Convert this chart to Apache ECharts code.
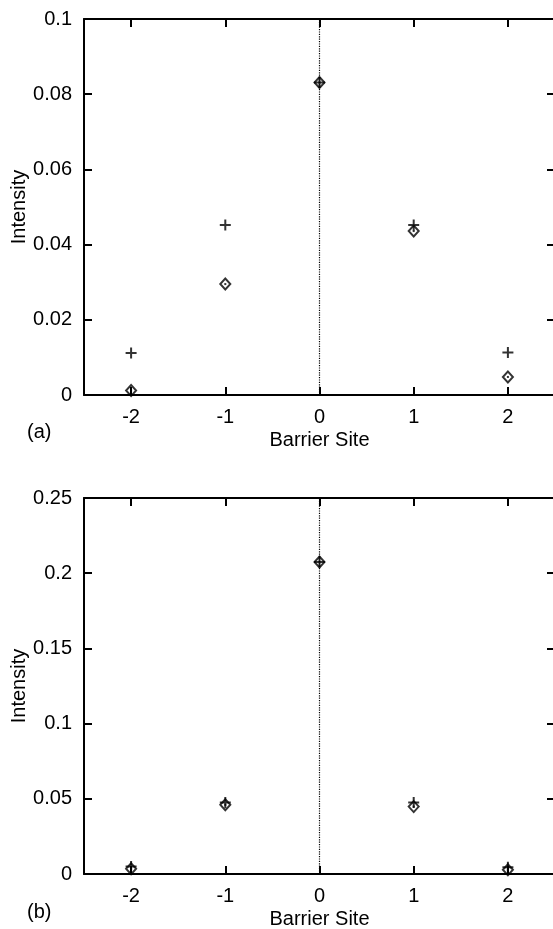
<!DOCTYPE html>
<html>
<head>
<meta charset="utf-8">
<script src="https://cdn.jsdelivr.net/npm/echarts@6/dist/echarts.min.js"></script>
<style>
html,body{margin:0;padding:0;background:#fff;}
#chart{width:553px;height:929px;}
</style>
</head>
<body>
<div id="chart"></div>
<script>
// Data
const sites = [-2, -1, 0, 1, 2];
const xTicks = [-2, -1, 0, 1, 2];
const aPlus = [0.0112, 0.0452, 0.0831, 0.0452, 0.0113];
const aDiamond = [0.0012, 0.0295, 0.0831, 0.0436, 0.0048];
const bPlus = [0.0050, 0.0475, 0.2075, 0.0475, 0.0045];
const bDiamond = [0.0035, 0.0460, 0.2075, 0.0448, 0.0028];
const panelLabels = ['(a)', '(b)'];
const xName = 'Barrier Site';
const yName = 'Intensity';

const FONT = 'Liberation Sans, Arial, Helvetica, sans-serif';
const FS = 20;

const chart = echarts.init(document.getElementById('chart'), null, {renderer: 'canvas'});

const grids = [
  {left: 84, width: 471, top: 19, height: 376, outerBoundsMode: 'none', containLabel: false},
  {left: 84, width: 471, top: 498, height: 376, outerBoundsMode: 'none', containLabel: false}
];
const yMax = [0.1, 0.25];
const yInt = [0.02, 0.05];

const xAxes = [], yAxes = [], series = [];
const axisLine = {show: true, onZero: false, lineStyle: {color: '#000', width: 2}};
const tick = {show: true, inside: true, length: 8, lineStyle: {color: '#000', width: 2}};
const xTick = Object.assign({}, tick, {customValues: xTicks});

const plusPath = 'path://M0,5L10,5M5,0L5,10';

[0, 1].forEach(g => {
  const xi = xAxes.length;
  xAxes.push({
    type: 'value', gridIndex: g, position: 'bottom', min: -2.5, max: 2.5,
    axisLine, axisTick: xTick, splitLine: {show: false},
    axisLabel: {color: '#000', fontFamily: FONT, fontSize: FS, margin: 12, customValues: xTicks},
    name: xName, nameLocation: 'middle', nameGap: 35, nameMoveOverlap: false,
    nameTextStyle: {color: '#000', fontFamily: FONT, fontSize: FS}
  });
  xAxes.push({
    type: 'value', gridIndex: g, position: 'top', min: -2.5, max: 2.5,
    axisLine, axisTick: xTick, splitLine: {show: false}, axisLabel: {show: false}
  });
  const yi = yAxes.length;
  yAxes.push({
    type: 'value', gridIndex: g, position: 'left', min: 0, max: yMax[g], interval: yInt[g],
    axisLine, axisTick: tick, splitLine: {show: false},
    axisLabel: {color: '#000', fontFamily: FONT, fontSize: FS, margin: 12},
    name: yName, nameLocation: 'middle', nameGap: 55, nameMoveOverlap: false,
    nameTextStyle: {color: '#000', fontFamily: FONT, fontSize: FS}
  });
  yAxes.push({
    type: 'value', gridIndex: g, position: 'right', min: 0, max: yMax[g], interval: yInt[g],
    axisLine, axisTick: tick, splitLine: {show: false}, axisLabel: {show: false}
  });
  const plus = g === 0 ? aPlus : bPlus;
  const dia = g === 0 ? aDiamond : bDiamond;
  series.push({
    type: 'scatter', xAxisIndex: xi, yAxisIndex: yi,
    data: sites.map((s, i) => [s, plus[i]]),
    symbol: plusPath, symbolSize: 11,
    itemStyle: {color: 'none', borderColor: '#000', borderWidth: 2},
    silent: true, z: 3,
    markLine: {
      silent: true, symbol: ['none', 'none'], label: {show: false},
      lineStyle: {color: '#000', type: [1.2, 1.2], width: 1.2},
      data: [{xAxis: 0}]
    }
  });
  series.push({
    type: 'scatter', xAxisIndex: xi, yAxisIndex: yi,
    data: sites.map((s, i) => [s, dia[i]]),
    symbol: 'diamond', symbolSize: [10, 11],
    itemStyle: {color: 'none', borderColor: '#000', borderWidth: 2},
    silent: true, z: 4
  });
  series.push({
    type: 'scatter', xAxisIndex: xi, yAxisIndex: yi,
    data: sites.map((s, i) => [s, dia[i]]),
    symbol: 'rect', symbolSize: 2,
    itemStyle: {color: '#000'},
    silent: true, z: 5
  });
});

chart.setOption({
  backgroundColor: '#fff',
  animation: false,
  grid: grids,
  xAxis: xAxes,
  yAxis: yAxes,
  series: series,
  graphic: [
    {type: 'text', left: 27, top: 422, style: {text: panelLabels[0], font: FS + 'px ' + FONT, fill: '#000'}},
    {type: 'text', left: 27, top: 902, style: {text: panelLabels[1], font: FS + 'px ' + FONT, fill: '#000'}}
  ]
});
</script>
</body>
</html>
